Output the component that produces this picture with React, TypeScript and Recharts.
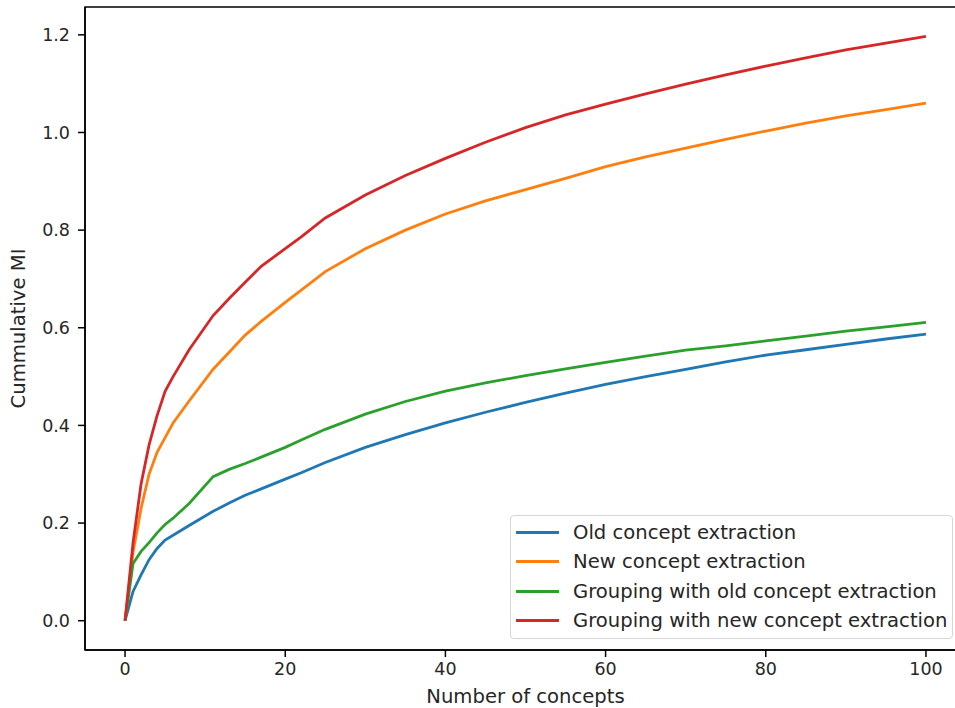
import { Line, LineChart, ReferenceArea, XAxis, YAxis } from "recharts";

const concepts = [0, 1, 2, 3, 4, 5, 6, 8, 11, 13, 15, 17, 20, 22, 25, 30, 35, 40, 45, 50, 55, 60, 65, 70, 75, 80, 85, 90, 95, 100];
const oldExtraction = [0, 0.06, 0.094, 0.125, 0.148, 0.165, 0.175, 0.195, 0.224, 0.241, 0.257, 0.27, 0.29, 0.303, 0.324, 0.355, 0.381, 0.405, 0.427, 0.447, 0.466, 0.484, 0.5, 0.515, 0.53, 0.544, 0.555, 0.566, 0.577, 0.587];
const newExtraction = [0, 0.14, 0.23, 0.3, 0.345, 0.375, 0.405, 0.45, 0.515, 0.55, 0.585, 0.613, 0.652, 0.677, 0.715, 0.762, 0.8, 0.833, 0.86, 0.883, 0.906, 0.93, 0.95, 0.968, 0.986, 1.003, 1.019, 1.034, 1.047, 1.06];
const groupingOld = [0, 0.117, 0.142, 0.16, 0.18, 0.197, 0.21, 0.24, 0.295, 0.31, 0.322, 0.335, 0.355, 0.37, 0.392, 0.423, 0.449, 0.47, 0.487, 0.502, 0.516, 0.529, 0.542, 0.554, 0.563, 0.573, 0.583, 0.593, 0.602, 0.611];
const groupingNew = [0, 0.16, 0.28, 0.36, 0.42, 0.47, 0.5, 0.555, 0.625, 0.66, 0.693, 0.726, 0.762, 0.786, 0.825, 0.872, 0.912, 0.947, 0.98, 1.01, 1.036, 1.058, 1.079, 1.099, 1.118, 1.136, 1.153, 1.169, 1.183, 1.197];

const xTicks = [0, 20, 40, 60, 80, 100];
const yTicks = [0, 0.2, 0.4, 0.6, 0.8, 1.0, 1.2];

const series = [
  { key: "old", name: "Old concept extraction", color: "#1f77b4" },
  { key: "new", name: "New concept extraction", color: "#ff7f0e" },
  { key: "gold", name: "Grouping with old concept extraction", color: "#2ca02c" },
  { key: "gnew", name: "Grouping with new concept extraction", color: "#d62728" },
];

const data = concepts.map((n, i) => ({
  n,
  old: oldExtraction[i],
  new: newExtraction[i],
  gold: groupingOld[i],
  gnew: groupingNew[i],
}));

const font = "DejaVu Sans, sans-serif";
const ink = "#262626";

// matplotlib-style legend box, lower right
function LegendBox() {
  return (
    <div
      style={{
        position: "absolute",
        left: 510,
        top: 515,
        width: 443,
        boxSizing: "border-box",
        background: "rgba(255,255,255,0.8)",
        border: "1px solid #d6d6d6",
        borderRadius: 4,
        padding: "2px 0 3px 5px",
        fontFamily: font,
        fontSize: 19.6,
        color: ink,
        whiteSpace: "nowrap",
      }}
    >
      {series.map((s) => (
        <div key={s.key} style={{ display: "flex", alignItems: "center", height: 29.3 }}>
          <span style={{ display: "inline-block", width: 43, height: 3, background: s.color, marginRight: 14 }} />
          <span>{s.name}</span>
        </div>
      ))}
    </div>
  );
}

export default function App() {
  return (
    <div style={{ position: "absolute", left: 0, top: 0, width: 955, height: 708, overflow: "hidden", background: "#fff" }}>
      <LineChart width={975} height={708} data={data} margin={{ top: 7, right: 9, bottom: 0, left: 0 }}>
        <XAxis
          dataKey="n"
          type="number"
          domain={[-5, 105]}
          ticks={xTicks}
          height={58}
          stroke="#000"
          strokeWidth={1.5}
          tickSize={7}
          tickMargin={6}
          tick={{ fill: ink, fontSize: 17.5, fontFamily: font }}
          label={{ value: "Number of concepts", position: "insideBottom", offset: 5, fill: ink, fontSize: 19.6, fontFamily: font }}
        />
        <YAxis
          type="number"
          domain={[-0.06, 1.257]}
          ticks={yTicks}
          width={85}
          stroke="#000"
          strokeWidth={1.5}
          tickSize={7}
          tickMargin={8}
          tickFormatter={(v: number) => v.toFixed(1)}
          tick={{ fill: ink, fontSize: 17.5, fontFamily: font }}
          label={{ value: "Cummulative MI", angle: -90, position: "insideLeft", offset: 18, fill: ink, fontSize: 19.6, fontFamily: font, style: { textAnchor: "middle" } }}
        />
        <ReferenceArea x1={-5} x2={105} y1={-0.06} y2={1.257} fill="none" stroke="#000" strokeWidth={1.5} />
        {series.map((s) => (
          <Line
            key={s.key}
            dataKey={s.key}
            name={s.name}
            stroke={s.color}
            strokeWidth={2.8}
            dot={false}
            type="linear"
            isAnimationActive={false}
          />
        ))}
      </LineChart>
      <LegendBox />
    </div>
  );
}
